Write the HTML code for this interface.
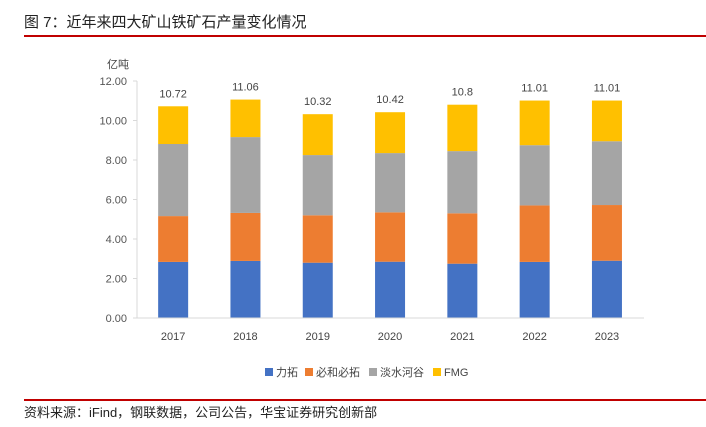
<!DOCTYPE html>
<html><head><meta charset="utf-8"><style>
body{margin:0;background:#fff;font-family:"Liberation Sans","Noto Sans CJK SC",sans-serif;}
svg text{font-family:"Liberation Sans","Noto Sans CJK SC",sans-serif;}
</style></head><body>
<svg id="c" width="706" height="422" xmlns="http://www.w3.org/2000/svg">
<text x="24" y="27" font-size="15" fill="#222">图 7：近年来四大矿山铁矿石产量变化情况</text>
<rect x="24" y="35" width="682" height="2" fill="#c00000"/>
<rect x="24" y="399" width="682" height="2" fill="#c00000"/>
<text x="24" y="417" font-size="13" fill="#222">资料来源：iFind，钢联数据，公司公告，华宝证券研究创新部</text>
<text x="118" y="68" font-size="11" fill="#444" text-anchor="middle">亿吨</text>
<g id="plot"></g>
</svg>
<script>
const categories=["2017","2018","2019","2020","2021","2022","2023"];
const riotinto=[2.84,2.89,2.80,2.85,2.75,2.84,2.90];
const bhp=[2.32,2.43,2.40,2.50,2.55,2.86,2.82];
const vale=[3.65,3.84,3.05,3.00,3.15,3.05,3.23];
const fmg=[1.91,1.90,2.07,2.07,2.35,2.26,2.06];
const totals=["10.72","11.06","10.32","10.42","10.8","11.01","11.01"];
const yTicks=["0.00","2.00","4.00","6.00","8.00","10.00","12.00"];
const series=[["力拓",riotinto,"#4472c4"],["必和必拓",bhp,"#ed7d31"],["淡水河谷",vale,"#a5a5a5"],["FMG",fmg,"#ffc000"]];
const NS="http://www.w3.org/2000/svg",g=document.getElementById('plot');
const y0=318,yTop=81,yMax=12,x0=137,step=72.3,bw=30;
const Y=v=>y0-(v/yMax)*(y0-yTop);
const X=i=>x0+step*(i+0.5);
function mk(t,a,txt){const e=document.createElementNS(NS,t);for(const k in a)e.setAttribute(k,a[k]);if(txt!=null)e.textContent=txt;g.appendChild(e);return e;}
yTicks.forEach(t=>{const v=parseFloat(t);
 const e=mk('text',{x:127,y:Y(v)+4,'font-size':11,fill:'#555','text-anchor':'end'},t);
 
 
 const l=mk('line',{x1:133,x2:137,y1:Y(v),y2:Y(v),stroke:'#d9d9d9'});
 
 
});
const ya=mk('line',{x1:137,x2:137,y1:yTop,y2:y0,stroke:'#d9d9d9'});


categories.forEach((c,i)=>{let acc=0;
 series.forEach(s=>{const v=s[1][i];
  const r=mk('rect',{x:X(i)-bw/2,y:Y(acc+v),width:bw,height:Y(acc)-Y(acc+v),fill:s[2]});
  
  
  acc+=v;});
 const t=mk('text',{x:X(i),y:Y(acc)-9,'font-size':11,fill:'#444','text-anchor':'middle'},totals[i]);
 
 
 const xl=mk('text',{x:X(i),y:y0+22,'font-size':11,fill:'#444','text-anchor':'middle'},c);
 
 
});
const xa=mk('line',{x1:134,x2:644,y1:y0,y2:y0,stroke:'#d9d9d9'});


let lx=265;
series.forEach(s=>{
 const r=mk('rect',{x:lx,y:368,width:8,height:8,fill:s[2]});
 
 
 const t=mk('text',{x:lx+11,y:376,'font-size':11,fill:'#444'},s[0]);
 
 
 lx+=14+(s[0]==="FMG"?30:s[0].length*12)+2;
});
</script>
</body></html>
